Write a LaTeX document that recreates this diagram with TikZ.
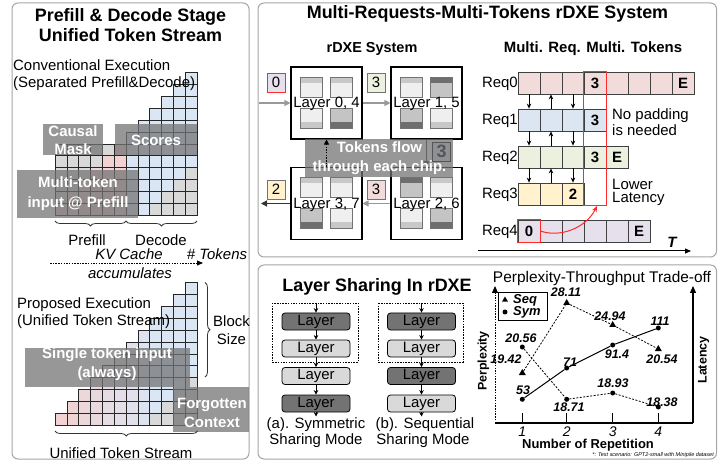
\documentclass[tikz,border=0pt]{standalone}
\usepackage{fontspec}
\setmainfont{Liberation Sans}
\usetikzlibrary{arrows.meta,decorations.pathreplacing,shapes.geometric,calc}
\newcommand\myfs[1]{\fontsize{#1}{#1}\selectfont}
\definecolor{pinkC}{HTML}{F2D2D2}
\definecolor{blueC}{HTML}{DAE6F4}
\definecolor{grayC}{HTML}{D9D9D9}
\definecolor{reqPink}{HTML}{F2DCDB}
\definecolor{reqBlue}{HTML}{DCE6F2}
\definecolor{reqGreen}{HTML}{EBF1DE}
\definecolor{reqYellow}{HTML}{FFF2CC}
\definecolor{reqLav}{HTML}{E6E0EC}
\definecolor{bandL}{HTML}{C8C8C8}
\definecolor{bandD}{HTML}{6E6E6E}
\definecolor{bodyL}{HTML}{EFEFEF}
\definecolor{bodyM}{HTML}{C4C4C4}
\definecolor{layerD}{HTML}{737373}
\definecolor{layerL}{HTML}{D9D9D9}
\definecolor{panelC}{HTML}{A6A6A6}
\definecolor{redC}{HTML}{FF2A2A}
\newcommand\mytile[4]{%
  \if#4D\def\bandc{bandD}\def\bodyc{bodyM}\else\def\bandc{bandL}\def\bodyc{bodyL}\fi
  \fill[fill=\bodyc] ({#1},{#2}) rectangle ++(22,20);
  \if#3t\fill[fill=\bandc] ({#1},{#2}) rectangle ++(22,6);\else\fill[fill=\bandc] ({#1},{#2+14}) rectangle ++(22,6);\fi
  \draw[black!55,line width=0.5bp] ({#1},{#2}) rectangle ++(22,20);
}
\newcommand\mychip[8]{%
  \node[chip] (#1) at ({#2+35.5},{#3+36}) {};
  \mytile{#2+9}{#3+10}{t}{#5}%
  \mytile{#2+39}{#3+10}{t}{#6}%
  \mytile{#2+9}{#3+41}{b}{#7}%
  \mytile{#2+39}{#3+41}{b}{#8}%
  \node[txt] (#1-lbl) at ({#2+35.5},{#3+37}) {#4};
}
\begin{document}
\begin{tikzpicture}[x=1bp,y=-1bp,
  panel/.style={draw=panelC,line width=1bp,rounded corners=6bp},
  txt/.style={inner sep=0pt,font=\myfs{15}},
  ttl/.style={inner sep=0pt,align=center,font={\fontsize{18}{19.5}\selectfont\bfseries}},
  sub/.style={inner sep=0pt,font={\myfs{15}\bfseries}},
  ovl/.style={fill=black!55,fill opacity=0.74},
  ovltxt/.style={inner sep=0pt,text=white,align=center,font={\fontsize{15}{18.5}\selectfont\bfseries}},
  cell/.style={draw=black!85,line width=0.7bp},
  brc/.style={draw=black!80,line width=0.8bp,decorate,decoration={brace,amplitude=5bp}},
  chip/.style={draw=black,line width=1.1bp,minimum width=71bp,minimum height=72bp,inner sep=0pt,fill=white},
  tok/.style={draw=black!55,line width=0.7bp,minimum width=18bp,minimum height=19bp,inner sep=0pt,font=\myfs{15}},
  garr/.style={draw=black!40,line width=1.1bp,-{Triangle[length=6bp,width=6bp]}},
  barr/.style={draw=black!80,line width=1.1bp,-{Triangle[length=6bp,width=6bp]}},
  rcell/.style={draw=black!75,line width=0.8bp,minimum width=22bp,minimum height=22bp,inner sep=0pt,font={\myfs{15}\bfseries}},
  sarr/.style={line width=0.8bp,-{Stealth[length=5bp,width=4.5bp]}},
  layerbox/.style={draw=black,line width=0.8bp,rounded corners=3bp,minimum width=68bp,minimum height=17bp,inner sep=0pt,font=\myfs{15}},
  larr/.style={line width=0.8bp,-{Stealth[length=4.5bp,width=4.5bp]}},
  dlab/.style={inner sep=0pt,font={\myfs{12.5}\bfseries\itshape}},
  tri/.style={regular polygon,regular polygon sides=3,fill=black,minimum size=8bp,inner sep=0pt},
  dot/.style={circle,fill=black,minimum size=5bp,inner sep=0pt},
  dsh/.style={line width=0.8bp,dash pattern=on 2bp off 1.5bp},
]
\useasboundingbox (0,0) rectangle (726,464);
\fill[white] (0,0) rectangle (726,464);
% panels
\draw[panel] (12,3) rectangle (249,459);
\draw[panel] (258,3) rectangle (716.5,257);
\draw[panel] (258,265) rectangle (716.5,459);

% ================= LEFT PANEL =================
\node[ttl] (ltitle) at (130.5,25) {Prefill \& Decode Stage\\Unified Token Stream};

% grid 1 (conventional)
\foreach \c in {1,...,12}{
  \pgfmathtruncatemacro\h{\c<7 ? 6 : \c}
  \foreach \r in {1,...,\h}{
    \pgfmathtruncatemacro\kind{\c<7 ? (\c>\r-1 ? 1 : 0) : (\r<\c-7 ? 0 : 2)}
    \ifcase\kind\relax\def\col{grayC}\or\def\col{pinkC}\or\def\col{blueC}\fi
    \filldraw[cell,fill=\col] ({55+(\c-1)*11.85},{215-\r*11.85}) rectangle ++(11.85,11.85);
  }
}
\node[txt,anchor=west] (conv1) at (13,65) {Conventional Execution};
\node[txt,anchor=west] (conv2) at (13,84) {(Separated Prefill\&Decode)};
\fill[ovl] (43,124) rectangle (103,155);
\node[ovltxt] (cmask) at (73,140) {Causal\\Mask};
\fill[ovl] (115,124) rectangle (197,155);
\node[ovltxt] (scores) at (156,140) {Scores};
\fill[ovl] (17,170) rectangle (138,218);
\node[ovltxt,font={\fontsize{15}{20}\selectfont\bfseries}] (mti) at (78,194) {Multi-token\\input @ Prefill};
\draw[brc] (126,221) -- (55,221);
\draw[brc] (197,221) -- (126,221);
\node[txt] (lpre) at (87,240.5) {Prefill};
\node[txt] (ldec) at (161,240.5) {Decode};
\node[txt,font={\myfs{15}\itshape}] (kv) at (129,254.5) {KV Cache};
\node[txt,font={\myfs{15}\itshape}] (ntok) at (217,254.5) {\# Tokens};
\coordinate (kv0) at (50,263);
\coordinate (kv1) at (203,263);
\draw[line width=0.9bp,dash pattern=on 1.5bp off 1.2bp,-{Triangle[length=6bp,width=5bp]}] (kv0) -- (kv1);
\node[txt,font={\myfs{15}\itshape}] (acc) at (130,273) {accumulates};

% grid 2 (proposed)
\foreach \c in {1,...,12}{
  \pgfmathtruncatemacro\mix{min(100,(\c-1)*12.5)}
  \foreach \r in {1,...,\c}{
    \pgfmathtruncatemacro\g{\r<\c-7 ? 1 : 0}
    \ifnum\g=1 \def\col{grayC}\else\edef\col{blueC!\mix!pinkC}\fi
    \filldraw[cell,fill=\col] ({55+(\c-1)*11.85},{425-\r*11.85}) rectangle ++(11.85,11.85);
  }
}
\node[txt,anchor=west] (prop1) at (17,305) {Proposed Execution};
\node[txt,anchor=west] (prop2) at (17,322) {(Unified Token Stream)};
\draw[brc] (205,282.5) -- (205,377);
\node[txt] (blk) at (231.5,321) {Block};
\node[txt] (siz) at (231.5,339) {Size};
\fill[ovl] (25,348) rectangle (190,387);
\node[ovltxt] (sti) at (107,364) {Single token input\\(always)};
\fill[ovl] (173,387) rectangle (249,432);
\node[ovltxt,font={\fontsize{15}{19}\selectfont\bfseries}] (fgc) at (212,413) {Forgotten\\Context};
\draw[brc] (197.5,431) -- (55,431);
\node[txt] (uts) at (121,453) {Unified Token Stream};

% ================= TOP RIGHT PANEL =================
\node[ttl] (rtitle) at (487.5,14) {Multi-Requests-Multi-Tokens rDXE System};
\node[sub,font={\myfs{14.5}\bfseries}] (rdxe) at (372,49) {rDXE System};
\node[sub] (mrmt) at (593,49) {Multi. Req. Multi. Tokens};

\mychip{chipA}{291}{67}{Layer 0, 4}{L}{L}{L}{D}
\mychip{chipB}{391}{67}{Layer 1, 5}{L}{D}{D}{L}
\mychip{chipC}{291}{167.5}{Layer 3, 7}{L}{L}{D}{L}
\mychip{chipD}{391}{167.5}{Layer 2, 6}{D}{L}{L}{D}

\node[tok,draw=redC,fill=reqLav] (tk0) at (276,82.5) {0};
\node[tok,fill=reqGreen] (tk3a) at (376,82.5) {3};
\node[tok,draw=black,fill=reqBlue,font={\myfs{18}\bfseries}] (tk3b) at (441.5,151.5) {3};
\node[tok,fill=reqPink] (tk3c) at (376,189.5) {3};
\node[tok,fill=reqYellow] (tk2) at (276,189.5) {2};

\coordinate (inA) at (259,103);
\draw[garr] (inA) -- (chipA.west);
\draw[garr] (chipA.east) -- (chipB.west);
\draw[barr] (chipB.south) -- (chipD.north);
\draw[garr] (chipD.west) -- (chipC.east);
\coordinate (outC) at (261,203.5);
\draw[barr] (chipC.west) -- (outC);

\fill[ovl] (305,139) rectangle (453,177);
\node[ovltxt,font={\fontsize{15}{19}\selectfont\bfseries}] (tflow) at (379.5,158.5) {Tokens flow\\through each chip.};
\draw[line width=0.9bp,dash pattern=on 1.5bp off 1.2bp,-{Triangle[length=5bp,width=5bp]}] (chipC.north) -- (chipA.south);

% requests
\node[txt,anchor=east] (lr0) at (518,83.5) {Req0};
\node[txt,anchor=east] (lr1) at (518,120.5) {Req1};
\node[txt,anchor=east] (lr2) at (518,157.5) {Req2};
\node[txt,anchor=east] (lr3) at (518,194.5) {Req3};
\node[txt,anchor=east] (lr4) at (518,231.5) {Req4};
\foreach \i/\t in {1/{},2/{},3/{},4/3,5/{},6/{},7/{},8/E}
  \node[rcell,fill=reqPink] (r0-\i) at ({518+22*(\i-0.5)},83) {\t};
\foreach \i/\t in {1/{},2/{},3/{},4/3}
  \node[rcell,fill=reqBlue] (r1-\i) at ({518+22*(\i-0.5)},120) {\t};
\foreach \i/\t in {1/{},2/{},3/{},4/3,5/E}
  \node[rcell,fill=reqGreen] (r2-\i) at ({518+22*(\i-0.5)},157) {\t};
\foreach \i/\t in {1/{},2/{},3/2}
  \node[rcell,fill=reqYellow] (r3-\i) at ({518+22*(\i-0.5)},194) {\t};
\foreach \i/\t in {1/0,2/{},3/{},4/{},5/{},6/E}
  \node[rcell,fill=reqLav] (r4-\i) at ({518+22*(\i-0.5)},231) {\t};
\draw[redC,line width=1.2bp] (r4-1.north west) rectangle (r4-1.south east);
\foreach \a/\b in {0/1,1/2,2/3}{
  \draw[sarr] (r\a-1.south) -- (r\b-1.north);
  \draw[sarr] (r\b-2.north) -- (r\a-2.south);
  \draw[sarr] (r\a-3.south) -- (r\b-3.north);
}
\draw[redC,line width=1.2bp] (r0-4.north west) rectangle (r0-4.east |- r3-3.south);
\node[txt,anchor=west] (np1) at (612,116) {No padding};
\node[txt,anchor=west] (np2) at (612,130) {is needed};
\node[txt,anchor=west] (ll1) at (612,184) {Lower};
\node[txt,anchor=west] (ll2) at (612,199) {Latency};
\coordinate (redtip) at (597,206);
\draw[redC,line width=1bp,-{Stealth[length=6bp,width=5bp]}] (r4-1.east) .. controls (560,238) and (586,228) .. (redtip);
\coordinate (t0) at (478,251);
\coordinate (t1) at (691,251);
\draw[line width=1bp,-{Triangle[length=6bp,width=5bp]}] (t0) -- (t1);
\node[txt,font={\myfs{15}\bfseries\itshape}] (tT) at (672,242) {T};

% ================= BOTTOM PANEL =================
\node[ttl] (lstitle) at (377,287) {Layer Sharing In rDXE};
\draw[line width=0.8bp,dash pattern=on 1.5bp off 1.2bp] (272,303) rectangle (358,362);
\draw[line width=0.8bp,dash pattern=on 1.5bp off 1.2bp] (378,303) rectangle (463,362);
\node[layerbox,fill=layerD] (a1) at (316,321.5) {Layer};
\node[layerbox,fill=layerL] (a2) at (316,348.5) {Layer};
\node[layerbox,fill=layerL] (a3) at (316,376) {Layer};
\node[layerbox,fill=layerD] (a4) at (316,403.5) {Layer};
\node[layerbox,fill=layerD] (b1) at (421.5,321.5) {Layer};
\node[layerbox,fill=layerL] (b2) at (421.5,348.5) {Layer};
\node[layerbox,fill=layerD] (b3) at (421.5,376) {Layer};
\node[layerbox,fill=layerL] (b4) at (421.5,403.5) {Layer};
\coordinate (a0) at (316,303); \coordinate (a5) at (316,416.5);
\coordinate (b0) at (421.5,303); \coordinate (b5) at (421.5,416.5);
\foreach \p in {a,b}{
  \draw[larr] (\p0) -- (\p1.north);
  \draw[larr] (\p1.south) -- (\p2.north);
  \draw[larr] (\p2.south) -- (\p3.north);
  \draw[larr] (\p3.south) -- (\p4.north);
  \draw[larr] (\p4.south) -- (\p5);
}
\node[txt] (acap1) at (316,425) {(a). Symmetric};
\node[txt] (acap2) at (316,441) {Sharing Mode};
\node[txt] (bcap1) at (425,425) {(b). Sequential};
\node[txt] (bcap2) at (423,441) {Sharing Mode};

% plot
\node[txt,font=\myfs{15.5}] (ptitle) at (602,279) {Perplexity-Throughput Trade-off};
\coordinate (ax0) at (495,423); \coordinate (axL) at (495,286);
\coordinate (ax1) at (693,423); \coordinate (axR) at (693,286);
\draw[line width=1bp,dash pattern=on 1.5bp off 1.2bp,-{Triangle[length=7bp,width=6bp]}] (ax0) -- (axL);
\draw[line width=1.3bp,-{Triangle[length=7bp,width=6bp]}] (ax1) -- (axR);
\draw[line width=1.3bp] (ax0) -- (ax1);
\foreach \x/\n in {522.3/1,566.7/2,612.7/3,658.3/4}{
  \draw[line width=1.1bp] (\x,413) -- (\x,423);
  \node[txt,font={\myfs{14}\itshape}] (tick\n) at (\x,431.5) {\n};
}
\node[txt,font={\myfs{13}\bfseries}] (xlab) at (588,445) {Number of Repetition};
\node[txt,font={\myfs{5.5}\itshape},anchor=east] (foot) at (714,455) {*: Test scenario: GPT2-small with Minipile dataset};
\node[txt,font={\myfs{12.5}\bfseries},rotate=90] (ylab) at (483.5,361) {Perplexity};
\node[txt,font={\myfs{12.5}\bfseries},rotate=90] (rlab) at (703.5,360) {Latency};
% legend
\draw[line width=0.8bp] (498,292) rectangle (547,320);
\node[tri,minimum size=7bp] (legT) at (505,300) {};
\node[dot] (legC) at (505,312) {};
\node[dlab,font={\myfs{13}\bfseries\itshape},anchor=west] (legS) at (513,300) {Seq};
\node[dlab,font={\myfs{13}\bfseries\itshape},anchor=west] (legY) at (513,312) {Sym};
% data
\node[tri] (q1) at (522.3,373) {};
\node[tri] (q2) at (566.7,303) {};
\node[tri] (q3) at (612.7,325) {};
\node[tri] (q4) at (658.3,349) {};
\node[dot] (p1) at (522.3,347) {};
\node[dot] (p2) at (566.7,399.3) {};
\node[dot] (p3) at (612.7,393) {};
\node[dot] (p4) at (658.3,407) {};
\node[dot] (l1) at (522.3,399.3) {};
\node[dot] (l2) at (566.7,368) {};
\node[dot] (l3) at (612.7,345) {};
\node[dot] (l4) at (658.3,328) {};
\draw[dsh] (q1) -- (q2) -- (q3) -- (q4);
\draw[dsh] (p1) -- (p2) -- (p3) -- (p4);
\draw[line width=1bp] (l1) -- (l2) -- (l3) -- (l4);
\node[dlab] (v1) at (566,292) {28.11};
\node[dlab] (v2) at (610,316) {24.94};
\node[dlab] (v3) at (662,359) {20.54};
\node[dlab] (v4) at (506,359.5) {19.42};
\node[dlab] (v5) at (521,338) {20.56};
\node[dlab] (v6) at (523,390) {53};
\node[dlab] (v7) at (570,362) {71};
\node[dlab] (v8) at (617,354) {91.4};
\node[dlab] (v9) at (660,321) {111};
\node[dlab] (v10) at (569,407) {18.71};
\node[dlab] (v11) at (613,383) {18.93};
\node[dlab] (v12) at (662,402.5) {18.38};
\end{tikzpicture}
\end{document}
